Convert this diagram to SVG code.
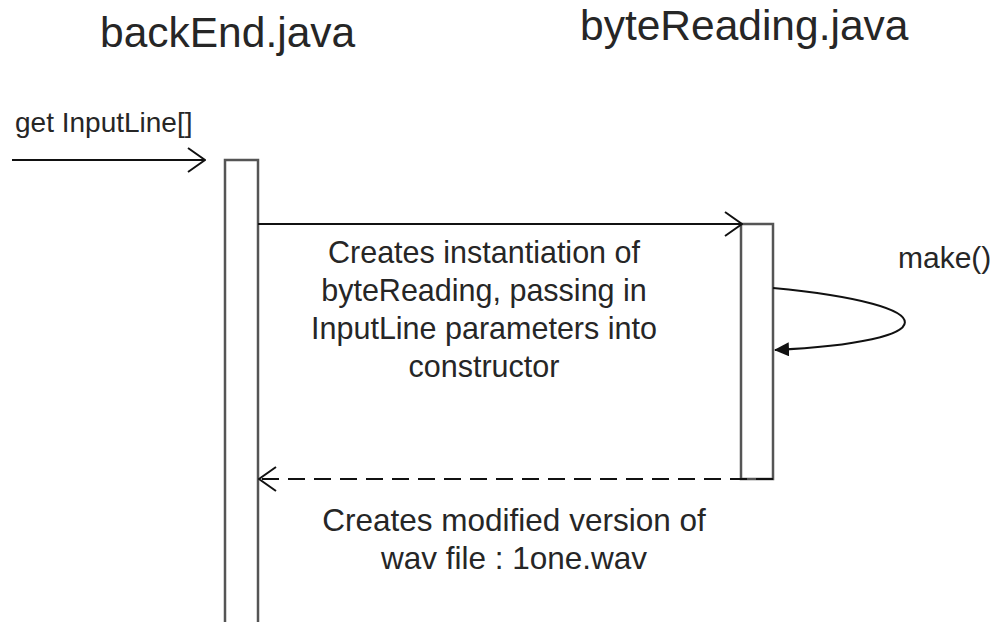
<svg xmlns="http://www.w3.org/2000/svg" width="1000" height="622" viewBox="0 0 1000 622">
  <defs>
    <style>
      text { font-family: "Liberation Sans", Arial, sans-serif; fill: #262626; }
      .title { font-size: 42.5px; }
      .msg { font-size: 30.5px; text-anchor: middle; }
      .small { font-size: 28px; }
      .act { fill: #fff; stroke: #555; stroke-width: 2.5; }
      .line { fill: none; stroke: #111; stroke-width: 2; }
      .dash { stroke-dasharray: 17 9; }
    </style>
    <marker id="open" viewBox="0 0 19 26" refX="18" refY="13" markerWidth="19" markerHeight="26" markerUnits="userSpaceOnUse" orient="auto">
      <path d="M1,1 L18,13 L1,25" fill="none" stroke="#111" stroke-width="2"/>
    </marker>
    <marker id="filled" viewBox="0 0 15 14" refX="14" refY="7" markerWidth="15" markerHeight="14" markerUnits="userSpaceOnUse" orient="auto">
      <path d="M0,0 L15,7 L0,14 Z" fill="#111"/>
    </marker>
  </defs>

  <!-- lifelines with their activation bars -->
  <g id="backEnd">
    <text class="title" x="100" y="47">backEnd.java</text>
    <rect class="act" x="225" y="160" width="33" height="480"/>
  </g>
  <g id="byteReading">
    <text class="title" x="580" y="40">byteReading.java</text>
    <rect class="act" x="741" y="224" width="32" height="255"/>
  </g>

  <!-- messages -->
  <g id="connectors">
    <line class="line" x1="12" y1="160" x2="205" y2="160" marker-end="url(#open)"/>
    <line class="line" x1="258" y1="224" x2="742" y2="224" marker-end="url(#open)"/>
    <path class="line" d="M773,288 C951,305 946,342 775,350" marker-end="url(#filled)"/>
    <line class="line dash" x1="773" y1="479" x2="259" y2="479" marker-end="url(#open)"/>
  </g>

  <g id="labels">
    <text class="small" x="15" y="132">get InputLine[]</text>
    <text x="898" y="268" style="font-size:30px">make()</text>
    <text class="msg" x="484" y="263">Creates instantiation of</text>
    <text class="msg" x="484" y="301">byteReading, passing in</text>
    <text class="msg" x="484" y="339">InputLine parameters into</text>
    <text class="msg" x="484" y="377">constructor</text>
    <text class="msg" x="514" y="531" style="font-size:31.5px">Creates modified version of</text>
    <text class="msg" x="514" y="569" style="font-size:31.5px">wav file : 1one.wav</text>
  </g>
</svg>
